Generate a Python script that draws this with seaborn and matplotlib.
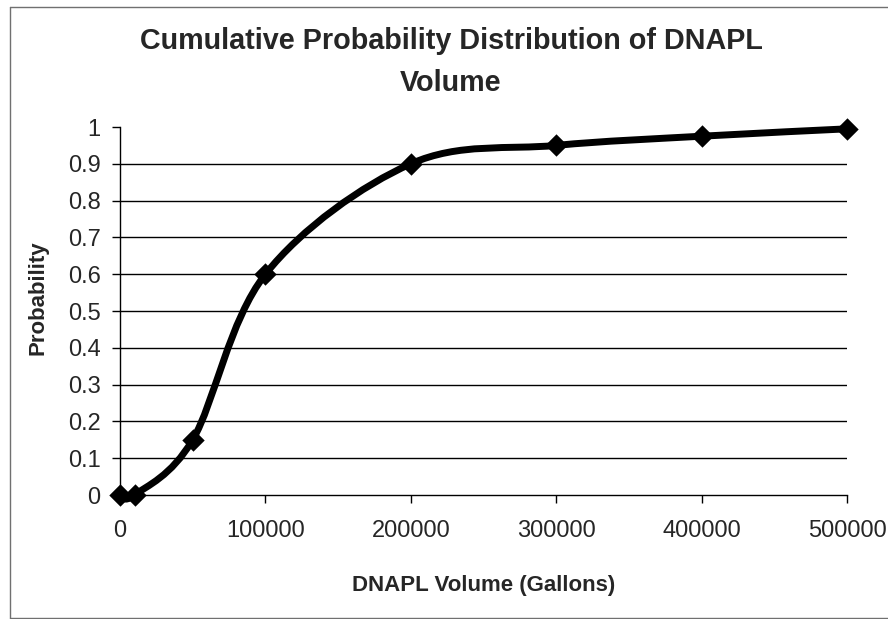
import matplotlib
matplotlib.use("Agg")
import matplotlib.pyplot as plt
import numpy as np
import pandas as pd
import seaborn as sns
from matplotlib.lines import Line2D
from matplotlib.path import Path
from matplotlib.patches import PathPatch

# data
volume_gal = [0, 10000, 50000, 100000, 200000, 300000, 400000, 500000]
probability = [0.0, 0.0, 0.15, 0.6, 0.9, 0.95, 0.975, 0.995]
x_ticks = [0, 100000, 200000, 300000, 400000, 500000]
y_ticks = [0, 0.1, 0.2, 0.3, 0.4, 0.5, 0.6, 0.7, 0.8, 0.9, 1]
y_tick_labels = ["0", "0.1", "0.2", "0.3", "0.4", "0.5", "0.6", "0.7", "0.8", "0.9", "1"]


def smooth_path(xs, ys, k=1 / 6):
    # Excel style "smoothed line": cubic Bezier segments, control points
    # taken from neighbouring points (Catmull-Rom)
    pts = np.column_stack([xs, ys]).astype(float)
    n = len(pts)
    verts = [pts[0]]
    codes = [Path.MOVETO]
    for i in range(n - 1):
        p0 = pts[max(i - 1, 0)]
        p1 = pts[i]
        p2 = pts[i + 1]
        p3 = pts[min(i + 2, n - 1)]
        verts += [p1 + (p2 - p0) * k, p2 - (p3 - p1) * k, p2]
        codes += [Path.CURVE4] * 3
    return Path(verts, codes)


df = pd.DataFrame({"volume": volume_gal, "prob": probability})

sns.set_style("white")
plt.rcParams["font.family"] = ["Liberation Sans", "DejaVu Sans"]

fig = plt.figure(figsize=(8.88, 6.19), dpi=100)
ax = fig.add_axes([120 / 888, 1 - 495 / 619, (847 - 120) / 888, (495 - 127) / 619])

ax.add_patch(PathPatch(smooth_path(df["volume"], df["prob"]), fill=False,
                       edgecolor="black", linewidth=5, capstyle="round",
                       joinstyle="round", clip_on=False, zorder=3))
sns.scatterplot(data=df, x="volume", y="prob", marker="D", s=130, color="black",
                edgecolor="black", linewidth=0, clip_on=False, zorder=4, ax=ax)

ax.set_xlim(0, 500000)
ax.set_ylim(0, 1)
ax.set_xticks(x_ticks)
ax.set_xticklabels([str(v) for v in x_ticks])
ax.set_yticks(y_ticks)
ax.set_yticklabels(y_tick_labels)

# horizontal gridlines only, none on the top edge
for v in y_ticks[1:-1]:
    ax.axhline(v, color="black", linewidth=1, zorder=1)

for side in ["top", "right"]:
    ax.spines[side].set_visible(False)
for side in ["left", "bottom"]:
    ax.spines[side].set_color("black")
    ax.spines[side].set_linewidth(1)

ax.tick_params(axis="both", direction="out", length=6, width=1, color="black",
               labelsize=17, bottom=True, left=True)
ax.tick_params(axis="x", pad=12)
ax.tick_params(axis="y", pad=8)

ax.set_xlabel("DNAPL Volume (Gallons)", fontsize=16, fontweight="bold", labelpad=24)
ax.set_ylabel("Probability", fontsize=16, fontweight="bold")
ax.yaxis.set_label_coords(-0.098, 0.535)

fig.text(451 / 888, 1 - 41 / 619, "Cumulative Probability Distribution of DNAPL",
         ha="center", va="center", fontsize=20.7, fontweight="bold")
fig.text(451 / 888, 1 - 83 / 619, "Volume",
         ha="center", va="center", fontsize=20.7, fontweight="bold")

# chart frame (left, top, bottom edges visible in the scan)
frame = dict(color="#707070", linewidth=1)
fig.add_artist(Line2D([10 / 888, 10 / 888], [1 / 619, 1 - 7 / 619], **frame))
fig.add_artist(Line2D([10 / 888, 1], [1 - 7 / 619, 1 - 7 / 619], **frame))
fig.add_artist(Line2D([10 / 888, 1], [1.5 / 619, 1.5 / 619], **frame))

fig.savefig("out.png", dpi=100)
